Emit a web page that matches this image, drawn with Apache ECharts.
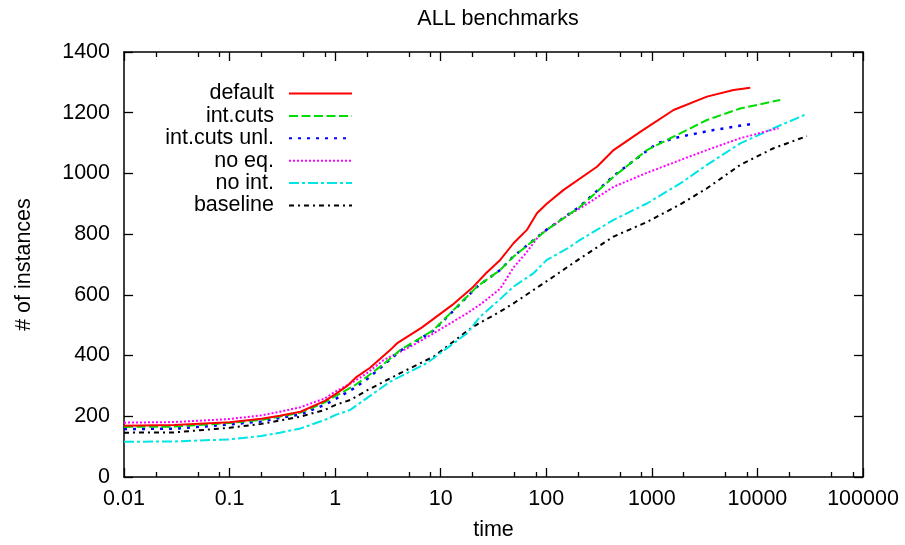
<!DOCTYPE html>
<html>
<head>
<meta charset="utf-8">
<script src="https://cdn.jsdelivr.net/npm/echarts@6/dist/echarts.min.js"></script>
<style>
  html, body { margin: 0; background: #fff; }
  #chart { width: 905px; height: 545px; }
</style>
</head>
<body>
<div id="chart"></div>
<script>
// series data: [time, # of instances]
const defaultData = [[0.01,169],[0.03,171],[0.1,180],[0.2,192],[0.3,202],[0.47,215],[0.8,251],[1,272],[1.3,300],[1.6,330],[2.14,360],[3.32,418],[3.84,440],[6.6,492],[12.8,566],[20.4,627],[27,672],[36.6,715],[48.9,770],[65.5,814],[81.5,869],[101,900],[145,945],[302,1022],[434,1077],[776,1137],[1605,1209],[3323,1253],[5943,1275],[8550,1282]];
const intCutsData = [[0.01,165],[0.03,166],[0.1,178],[0.2,188],[0.3,199],[0.47,212],[0.8,246],[1,266],[1.5,300],[2,330],[2.87,372],[4.13,418],[8.53,484],[12.3,539],[22,627],[36.6,682],[48.9,726],[101,814],[209,890],[434,989],[898,1077],[1605,1121],[3323,1176],[6874,1214],[16440,1242]];
const intCutsUnlData = [[0.01,158],[0.03,159],[0.1,173],[0.2,183],[0.3,195],[0.47,206],[0.8,238],[1,256],[1.5,292],[2,322],[2.87,368],[4.13,416],[8.53,482],[12.3,537],[22,626],[36.6,682],[48.9,727],[101,815],[209,892],[434,992],[834,1066],[1117,1099],[1857,1121],[3837,1143],[9530,1165]];
const noEqData = [[0.01,179],[0.03,181],[0.1,191],[0.2,203],[0.3,215],[0.47,230],[0.8,259],[1,281],[1.5,314],[2,342],[2.87,385],[5.13,429],[8.53,473],[17.7,539],[23.6,568],[36.6,620],[48.9,690],[65,740],[87.5,800],[101,814],[157,860],[209,885],[434,956],[898,1002],[1857,1044],[3323,1077],[6874,1116],[15860,1149]];
const noIntData = [[0.01,116],[0.03,117],[0.1,124],[0.2,135],[0.3,146],[0.47,160],[0.8,188],[1,204],[1.39,221],[2,260],[3.32,314],[7.38,375],[17.7,473],[23.6,528],[36.6,586],[48.9,627],[75.6,671],[101,715],[157,752],[209,781],[434,847],[898,901],[1857,967],[3323,1028],[6874,1099],[14220,1149],[29440,1196]];
const baselineData = [[0.01,146],[0.03,147],[0.1,162],[0.2,175],[0.3,186],[0.47,199],[0.8,221],[1,237],[1.39,254],[2,285],[4.13,342],[8.53,396],[20,494],[36.6,545],[48.9,572],[101,645],[209,720],[434,792],[898,840],[1857,898],[3323,951],[6874,1028],[14220,1083],[29440,1123]];

const seriesNames = ['default', 'int.cuts', 'int.cuts unl.', 'no eq.', 'no int.', 'baseline'];
const seriesData = [defaultData, intCutsData, intCutsUnlData, noEqData, noIntData, baselineData];
const seriesColors = ['#ff0000', '#00dd00', '#0000ff', '#ff00ff', '#00e5e5', '#000000'];
const dashTypes = ['solid', [9, 3.5], [3, 6], [2, 2], [10, 3, 3, 3], [5, 4, 2, 4]];

// axis ranges and tick positions
const xMin = 0.01, xMax = 100000;
const decades = [0.01, 0.1, 1, 10, 100, 1000, 10000];
const minorMult = [2, 5, 8];
const minorTicks = decades.flatMap(d => minorMult.map(m => +(d * m).toPrecision(3)));

const FONT = '"Liberation Sans", Arial, sans-serif';
const FS = 21.5;
const black = '#000';

function fmtNum(v) { return String(+(+v).toPrecision(4)); }

const chart = echarts.init(document.getElementById('chart'));

const lineAxis = { show: true, lineStyle: { color: black, width: 1.5 } };
const noLine = { show: false };
const majorTick = { show: true, inside: true, length: 9, lineStyle: { color: black, width: 1.3 } };
const minorTick = { show: true, inside: true, length: 5, customValues: minorTicks, lineStyle: { color: black, width: 1.3 } };

function xAx(pos, opts) {
  return Object.assign({
    type: 'log', logBase: 10, min: xMin, max: xMax, position: pos, gridIndex: 0,
    splitLine: { show: false }, axisLabel: { show: false }, axisLine: noLine,
    axisTick: { show: false }
  }, opts);
}

const xAxes = [
  xAx('bottom', {
    axisLine: lineAxis, axisTick: majorTick,
    axisLabel: { show: true, color: black, fontSize: FS, fontFamily: FONT, margin: 11, formatter: fmtNum },
    name: 'time', nameLocation: 'middle', nameGap: 42,
    nameTextStyle: { color: black, fontSize: FS, fontFamily: FONT }
  }),
  xAx('bottom', { axisTick: minorTick }),
  xAx('top', { axisLine: lineAxis, axisTick: majorTick }),
  xAx('top', { axisTick: minorTick })
];

const yAxes = [
  {
    type: 'value', min: 0, max: 1400, interval: 200, position: 'left',
    splitLine: { show: false }, axisLine: lineAxis, axisTick: majorTick,
    axisLabel: { color: black, fontSize: FS, fontFamily: FONT, margin: 14, formatter: fmtNum },
    name: '# of instances', nameLocation: 'middle', nameGap: 89,
    nameTextStyle: { color: black, fontSize: FS, fontFamily: FONT }
  },
  {
    type: 'value', min: 0, max: 1400, interval: 200, position: 'right',
    splitLine: { show: false }, axisLine: lineAxis, axisTick: majorTick,
    axisLabel: { show: false }
  }
];

const legends = seriesNames.map((name, i) => ({
  data: [name], orient: 'vertical', right: 552, top: 82.5 + i * 22.4, padding: 0,
  align: 'right', itemWidth: 63, itemHeight: 12, selectedMode: false,
  itemStyle: { color: 'transparent', borderColor: 'transparent', borderWidth: 0 },
  textStyle: { color: black, fontSize: FS, fontFamily: FONT, padding: [0, 10, 0, 0] }
}));

const series = seriesNames.map((name, i) => ({
  name, type: 'line', xAxisIndex: 0, yAxisIndex: 0,
  data: seriesData[i], symbol: 'none', smooth: false,
  lineStyle: { color: seriesColors[i], width: i === 2 ? 2.5 : 2, type: dashTypes[i], cap: 'butt', join: 'round' },
  itemStyle: { color: seriesColors[i] },
  z: 10 - i
}));

chart.setOption({
  animation: false,
  backgroundColor: '#fff',
  title: {
    text: 'ALL benchmarks', left: 493, top: 3, textAlign: 'center',
    textStyle: { color: black, fontSize: FS, fontWeight: 'normal', fontFamily: FONT }
  },
  grid: { left: 124, right: 42, top: 52, bottom: 68, outerBoundsMode: 'none' },
  legend: legends,
  xAxis: xAxes,
  yAxis: yAxes,
  series
});
</script>
</body>
</html>
